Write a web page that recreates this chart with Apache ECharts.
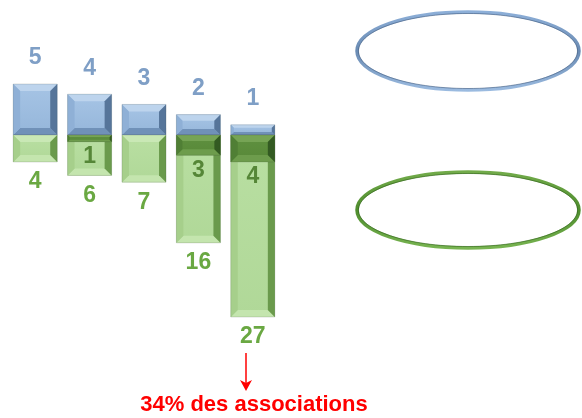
<!DOCTYPE html>
<html>
<head>
<meta charset="utf-8">
<style>
  html, body { margin: 0; padding: 0; background: #ffffff; }
  #chart { width: 582px; height: 418px; }
</style>
<script src="https://cdn.jsdelivr.net/npm/echarts@6/dist/echarts.min.js"></script>
</head>
<body>
<div id="chart"></div>
<script>
// Five groups, ranked from 5 down to 1
const groups = ['5', '4', '3', '2', '1'];
// Upper (blue) bars
const blueValues = [5, 4, 3, 2, 1];
// Lower (green) bars
const greenValues = [4, 6, 7, 16, 27];
// Dark green segment at the top of each green bar (0 = none)
const overlapValues = [0, 1, 0, 3, 4];
// Note under the last bar
const noteText = '34% des associations';

const FONT = '"Liberation Sans", Arial, sans-serif';

const palettes = {
  blue:  { face: ['#a6c4e5', '#95b6da'], top: '#bdd4ed', left: '#8fb0d6', right: '#56759a', bottom: '#7091b8' },
  green: { face: ['#b9dfa2', '#b0d898'], top: '#c9e8b5', left: '#a6cf8b', right: '#6a9a4c', bottom: '#c4e5ae' },
  dark:  { face: ['#5f9140', '#588838'], top: '#76a455', left: '#507f35', right: '#335a22', bottom: '#6d9c4c' }
};

// Bevelled bar between the axis origin and a value
function bevelBar(api, pal, v, labelCfg) {
  const idx = api.value(0);
  const base = api.coord([idx, 0]);
  const end = api.coord([idx, v]);
  const bw = api.size([1, 0])[0] * 0.81;
  const x0 = base[0] - bw / 2, x1 = base[0] + bw / 2;
  const t = Math.min(base[1], end[1]), bt = Math.max(base[1], end[1]);
  const h = bt - t;
  const b = Math.min(7, h * 0.3);
  const children = [];
  if (h > 0) {
    children.push(
      { type: 'rect', shape: { x: x0, y: t, width: bw, height: h },
        style: { fill: new echarts.graphic.LinearGradient(0, 0, 0, 1, [
          { offset: 0, color: pal.face[0] }, { offset: 1, color: pal.face[1] }]) } },
      { type: 'polygon', shape: { points: [[x0, t], [x1, t], [x1 - b, t + b], [x0 + b, t + b]] }, style: { fill: pal.top } },
      { type: 'polygon', shape: { points: [[x0, bt], [x1, bt], [x1 - b, bt - b], [x0 + b, bt - b]] }, style: { fill: pal.bottom } },
      { type: 'polygon', shape: { points: [[x0, t], [x0 + b, t + b], [x0 + b, bt - b], [x0, bt]] }, style: { fill: pal.left } },
      { type: 'polygon', shape: { points: [[x1, t], [x1 - b, t + b], [x1 - b, bt - b], [x1, bt]] }, style: { fill: pal.right } },
      { type: 'rect', shape: { x: x0, y: t, width: bw, height: h },
        style: { fill: 'none', stroke: 'rgba(60,70,60,0.22)', lineWidth: 0.8 } }
    );
  }
  if (labelCfg) {
    const ly = (labelCfg.dy < 0 ? t : bt) + labelCfg.dy;
    children.push({
      type: 'text',
      style: { text: String(v), x: base[0], y: ly, align: 'center', verticalAlign: 'middle',
        fill: labelCfg.color, font: 'bold 23px ' + FONT }
    });
  }
  return { type: 'group', children };
}

const chart = echarts.init(document.getElementById('chart'), null, { renderer: 'canvas' });

const option = {
  animation: false,
  grid: [
    { left: 8, width: 272, top: 84, height: 51 },
    { left: 8, width: 272, top: 135, height: 182 }
  ],
  xAxis: [
    { type: 'category', data: groups, gridIndex: 0, show: false },
    { type: 'category', data: groups, gridIndex: 1, show: false }
  ],
  yAxis: [
    { type: 'value', gridIndex: 0, min: 0, max: 5, show: false },
    { type: 'value', gridIndex: 1, min: 0, max: 27, inverse: true, show: false }
  ],
  series: [
    {
      type: 'custom', xAxisIndex: 0, yAxisIndex: 0,
      data: blueValues.map((v, i) => [i, v]),
      renderItem: (params, api) => bevelBar(api, palettes.blue, api.value(1),
        { dy: -26, color: '#7f9fc6' })
    },
    {
      type: 'custom', xAxisIndex: 1, yAxisIndex: 1,
      data: greenValues.map((v, i) => [i, v]),
      renderItem: (params, api) => bevelBar(api, palettes.green, api.value(1),
        { dy: 20, color: '#6aa842' })
    },
    {
      type: 'custom', xAxisIndex: 1, yAxisIndex: 1,
      data: overlapValues.map((v, i) => [i, v]),
      renderItem: (params, api) => {
        const v = api.value(1);
        if (!v) return null;
        const g = bevelBar(api, palettes.dark, v, null);
        const c = api.coord([api.value(0), v]);
        g.children.push({
          type: 'text',
          style: { text: String(v), x: c[0], y: c[1] + 15, align: 'center', verticalAlign: 'middle',
            fill: '#558637', font: 'bold 23px ' + FONT }
        });
        return g;
      }
    }
  ],
  graphic: [
    // Outlined ellipses on the right
    { type: 'ellipse', shape: { cx: 468, cy: 51, rx: 111, ry: 39 },
      style: { fill: 'none', lineWidth: 3.5,
        stroke: new echarts.graphic.LinearGradient(0, 0, 0, 1, [
          { offset: 0, color: '#8fb1da' }, { offset: 0.5, color: '#6a8bb3' }, { offset: 1, color: '#9dbde2' }]) } },
    { type: 'ellipse', shape: { cx: 468, cy: 51, rx: 109.5, ry: 37.5 },
      style: { fill: 'none', lineWidth: 1, stroke: 'rgba(60,85,120,0.55)' } },
    { type: 'ellipse', shape: { cx: 468, cy: 210, rx: 111, ry: 38 },
      style: { fill: 'none', lineWidth: 3.5,
        stroke: new echarts.graphic.LinearGradient(0, 0, 0, 1, [
          { offset: 0, color: '#74ad4c' }, { offset: 0.5, color: '#4f8d2e' }, { offset: 1, color: '#7ab653' }]) } },
    { type: 'ellipse', shape: { cx: 468, cy: 210, rx: 109.5, ry: 36.5 },
      style: { fill: 'none', lineWidth: 1, stroke: 'rgba(40,90,20,0.55)' } },
    // Arrow pointing to the note
    { type: 'line', shape: { x1: 246, y1: 353, x2: 246, y2: 386 },
      style: { stroke: '#ff0000', lineWidth: 1.5 } },
    { type: 'polygon', shape: { points: [[240, 380], [246, 383], [252, 380], [246, 391]] },
      style: { fill: '#ff0000' } },
    { type: 'text', x: 254, y: 405,
      style: { text: noteText, align: 'center', verticalAlign: 'middle',
        fill: '#ff0000', font: 'bold 22px ' + FONT } }
  ]
};

chart.setOption(option);
</script>
</body>
</html>
